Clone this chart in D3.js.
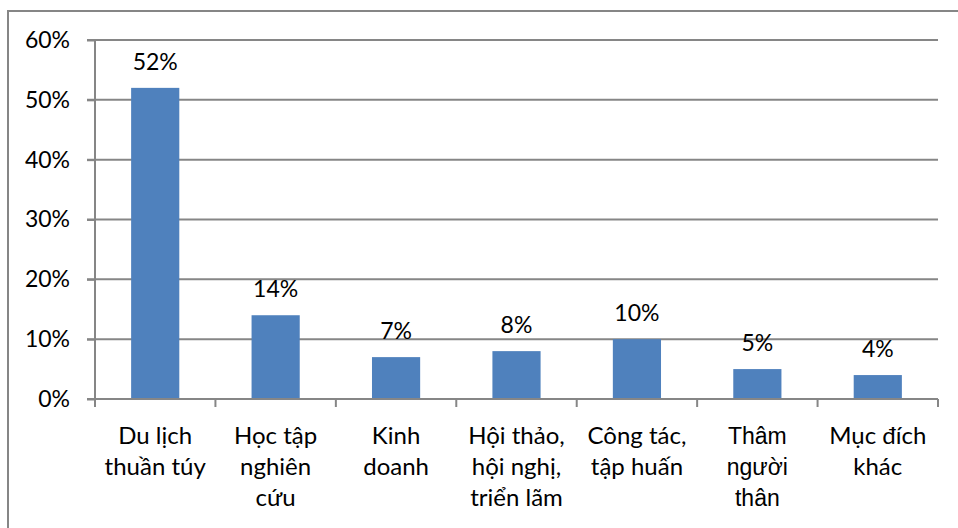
<!DOCTYPE html>
<html>
<head>
<meta charset="utf-8">
<script src="https://cdn.jsdelivr.net/npm/d3@7"></script>
<style>
html,body{margin:0;padding:0;background:#fff;}
svg{display:block;}
</style>
</head>
<body>
<svg id="chart" width="958" height="528"></svg>
<script>
const categories = [
  ["Du lịch", "thuần túy"],
  ["Học tập", "nghiên", "cứu"],
  ["Kinh", "doanh"],
  ["Hội thảo,", "hội nghị,", "triển lãm"],
  ["Công tác,", "tập huấn"],
  ["Thâm", "người", "thân"],
  ["Mục đích", "khác"]
];
const values = [52, 14, 7, 8, 10, 5, 4];
const yTicks = [0, 10, 20, 30, 40, 50, 60];

const svg = d3.select("#chart");
const font = "Lato, 'Open Sans', sans-serif";
const gridColor = "#868686";

// outer border
svg.append("path")
  .attr("d", "M8,528 L8,11 L958,11")
  .attr("fill", "none").attr("stroke", gridColor).attr("stroke-width", 2);

const pLeft = 95, pRight = 938, pTop = 40, pBottom = 399;
const x = d3.scaleBand().domain(d3.range(values.length)).range([pLeft, pRight]).paddingInner(0.6).paddingOuter(0.3);
const xb = d3.scaleBand().domain(d3.range(values.length)).range([pLeft, pRight]);
const y = d3.scaleLinear().domain([0, 60]).range([pBottom, pTop]);

// gridlines
svg.append("g").selectAll("line").data(yTicks.filter(d => d > 0)).join("line")
  .attr("x1", pLeft - 8).attr("x2", pRight)
  .attr("y1", d => y(d)).attr("y2", d => y(d))
  .attr("stroke", gridColor).attr("stroke-width", 2);

// y axis
const yAxis = d3.axisLeft(y).tickValues(yTicks).tickFormat(d => d + "%").tickSize(8).tickPadding(17);
const gy = svg.append("g").attr("transform", `translate(${pLeft},0)`).call(yAxis);
gy.select(".domain").attr("stroke", gridColor).attr("stroke-width", 2).attr("d", `M0,${pTop}V${pBottom}`);
gy.selectAll(".tick line").attr("stroke", gridColor).attr("stroke-width", 2);
gy.selectAll(".tick text").attr("font-family", font).attr("font-size", 23).attr("fill", "#000");

// bars
svg.append("g").selectAll("rect").data(values).join("rect")
  .attr("x", (d, i) => x(i)).attr("width", x.bandwidth())
  .attr("y", d => y(d)).attr("height", d => y(0) - y(d))
  .attr("fill", "#4F81BD");

// x axis
svg.append("line").attr("x1", pLeft - 8).attr("x2", pRight).attr("y1", pBottom).attr("y2", pBottom)
  .attr("stroke", gridColor).attr("stroke-width", 2);
const bounds = d3.range(values.length + 1).map(i => i < values.length ? xb(i) : pRight);
svg.append("g").selectAll("line").data(bounds).join("line")
  .attr("x1", d => d).attr("x2", d => d).attr("y1", pBottom).attr("y2", pBottom + 8)
  .attr("stroke", gridColor).attr("stroke-width", 2);

// value labels
svg.append("g").selectAll("text").data(values).join("text")
  .attr("x", (d, i) => x(i) + x.bandwidth() / 2)
  .attr("y", d => y(d) - 18)
  .attr("text-anchor", "middle")
  .attr("font-family", font).attr("font-size", 23).attr("fill", "#000")
  .text(d => d + "%");

// category labels
const cat = svg.append("g").selectAll("text").data(categories).join("text")
  .attr("x", (d, i) => xb(i) + xb.bandwidth() / 2)
  .attr("y", 444)
  .attr("text-anchor", "middle")
  .attr("font-family", (d, i) => i === 5 ? "'Liberation Sans', Arial, sans-serif" : font)
  .attr("font-size", (d, i) => i === 5 ? 23 : 24).attr("fill", "#000");
cat.selectAll("tspan").data(d => d).join("tspan")
  .attr("x", function() { return d3.select(this.parentNode).attr("x"); })
  .attr("dy", (d, i) => i === 0 ? 0 : 31)
  .text(d => d);
</script>
</body>
</html>
